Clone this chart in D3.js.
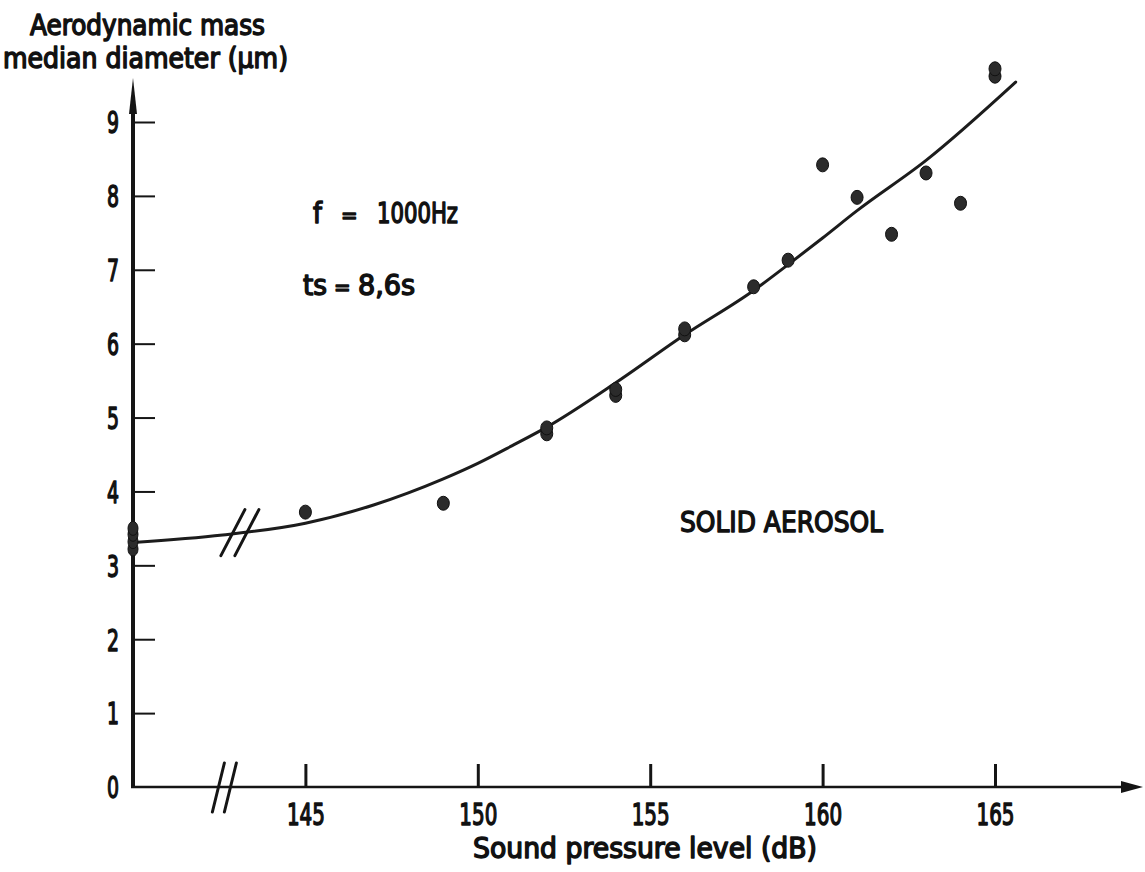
<!DOCTYPE html>
<html>
<head>
<meta charset="utf-8">
<script src="https://cdn.jsdelivr.net/npm/d3@7"></script>
<style>
  html, body { margin: 0; padding: 0; background: #fff; }
  svg { display: block; }
  text { font-family: "DejaVu Sans Condensed", "Liberation Sans Narrow", "Liberation Sans", sans-serif; font-weight: normal; fill: #111; stroke: #111; stroke-width: 1.4px; stroke-linejoin: round; }
</style>
</head>
<body>
<svg id="chart" width="1145" height="872"></svg>
<script>
// Sound pressure level (dB) and measured aerodynamic mass median diameter (µm)
const splValues  = [145, 149, 152, 152, 154, 154, 156, 156, 158, 159, 160, 161, 162, 163, 164, 165, 165];
const mmadValues = [3.72, 3.84, 4.78, 4.86, 5.30, 5.38, 6.12, 6.20, 6.77, 7.13, 8.42, 7.98, 7.48, 8.31, 7.90, 9.62, 9.72];

// Reference measurements without sound, plotted on the vertical axis
const noSoundValues = [3.22, 3.32, 3.42, 3.50];

// Hand-fitted trend curve
const fitSpl  = [140, 142.6, 145, 147, 149, 150, 151, 152, 154, 156, 158, 159, 160, 161, 163, 165.6];
const fitMmad = [3.31, 3.41, 3.57, 3.82, 4.17, 4.38, 4.62, 4.87, 5.47, 6.12, 6.72, 7.07, 7.43, 7.80, 8.48, 9.54];

const xTicks = [145, 150, 155, 160, 165];
const yTicks = [0, 1, 2, 3, 4, 5, 6, 7, 8, 9];

const axisOrigin = 140;      // dB value at the (broken) origin
const axisBreak = 142.65;    // break mark on the x axis
const curveBreak = 143.1;    // break mark on the curve

const svg = d3.select("#chart");
svg.append("rect").attr("width", 1145).attr("height", 872).attr("fill", "#fff");

const x = d3.scaleLinear().domain([axisOrigin, 165]).range([133, 995]);
const y = d3.scaleLinear().domain([0, 9]).range([787, 122]);

const ink = "#151515";

// ---- axes ----
const yAxis = d3.axisLeft(y).tickValues(yTicks.filter(d => d > 0)).tickSize(-22).tickPadding(14).tickFormat(d3.format("d"));
const gy = svg.append("g").attr("transform", `translate(${x(axisOrigin)},0)`).call(yAxis);
gy.select(".domain").remove();
gy.selectAll(".tick line").attr("stroke", ink).attr("stroke-width", 2);
gy.selectAll(".tick text").attr("font-size", 30).attr("fill", ink).attr("dy", "0.36em")
  .attr("textLength", 12).attr("lengthAdjust", "spacingAndGlyphs");

// zero label at the origin
svg.append("text").attr("x", x(axisOrigin) - 14).attr("y", y(0)).attr("dy", "0.36em")
  .attr("text-anchor", "end").attr("font-size", 30)
  .attr("textLength", 12).attr("lengthAdjust", "spacingAndGlyphs").text("0");

const xAxis = d3.axisBottom(x).tickValues(xTicks).tickSize(-23).tickPadding(17).tickFormat(d3.format("d"));
const gx = svg.append("g").attr("transform", `translate(0,${y(0)})`).call(xAxis);
gx.select(".domain").remove();
gx.selectAll(".tick line").attr("stroke", ink).attr("stroke-width", 3);
gx.selectAll(".tick text").attr("font-size", 30).attr("fill", ink)
  .attr("textLength", 38).attr("lengthAdjust", "spacingAndGlyphs");

// axis lines with arrow heads
const yTop = 78, xRight = 1143;
svg.append("line").attr("x1", x(axisOrigin)).attr("x2", x(axisOrigin))
  .attr("y1", y(0) + 1).attr("y2", yTop + 20).attr("stroke", ink).attr("stroke-width", 4);
svg.append("path")
  .attr("d", `M${x(axisOrigin)},${yTop} L${x(axisOrigin) + 4},${yTop + 36} L${x(axisOrigin) - 4},${yTop + 36} Z`)
  .attr("fill", ink);
svg.append("line").attr("x1", x(axisOrigin) - 2).attr("x2", xRight - 15)
  .attr("y1", y(0)).attr("y2", y(0)).attr("stroke", ink).attr("stroke-width", 2.5);
svg.append("path")
  .attr("d", `M${xRight},${y(0)} L${xRight - 22},${y(0) - 6} L${xRight - 22},${y(0) + 6} Z`)
  .attr("fill", ink);

// break marks on the x axis
const bx = x(axisBreak), by = y(0);
[-6, 6].forEach(off => {
  svg.append("line")
    .attr("x1", bx + off - 6).attr("y1", by + 25)
    .attr("x2", bx + off + 6).attr("y2", by - 24)
    .attr("stroke", ink).attr("stroke-width", 3).attr("stroke-linecap", "round");
});

// ---- fitted curve ----
const line = d3.line().x(d => x(d[0])).y(d => y(d[1])).curve(d3.curveMonotoneX);
svg.append("path")
  .datum(d3.zip(fitSpl, fitMmad))
  .attr("d", line)
  .attr("fill", "none").attr("stroke", "#1c1c1c").attr("stroke-width", 3).attr("stroke-linecap", "round");

// break marks on the curve
const cbx = x(curveBreak);
const cby = y(d3.interpolateNumber(fitMmad[1], fitMmad[2])((curveBreak - fitSpl[1]) / (fitSpl[2] - fitSpl[1])));
[-7, 7].forEach(off => {
  svg.append("line")
    .attr("x1", cbx + off - 12).attr("y1", cby + 23)
    .attr("x2", cbx + off + 12).attr("y2", cby - 23)
    .attr("stroke", ink).attr("stroke-width", 3).attr("stroke-linecap", "round");
});

// ---- data points ----
svg.append("g").selectAll("ellipse")
  .data(d3.zip(splValues, mmadValues))
  .join("ellipse")
  .attr("cx", d => x(d[0])).attr("cy", d => y(d[1]))
  .attr("rx", 6).attr("ry", 7)
  .attr("fill", "#2b2b2b").attr("stroke", "#111").attr("stroke-width", 1);

svg.append("g").selectAll("ellipse")
  .data(noSoundValues)
  .join("ellipse")
  .attr("cx", x(axisOrigin)).attr("cy", d => y(d))
  .attr("rx", 5).attr("ry", 7)
  .attr("fill", "#2b2b2b").attr("stroke", "#111").attr("stroke-width", 1);

// ---- labels ----
function label(txt, x0, baseline, size, len) {
  const t = svg.append("text").attr("x", x0).attr("y", baseline).attr("font-size", size).text(txt);
  if (len) t.attr("textLength", len).attr("lengthAdjust", "spacingAndGlyphs");
  return t;
}
label("Aerodynamic mass", 30, 35, 28, 235);
label("median diameter (µm)", 3, 68, 28, 285);
label("Sound pressure level (dB)", 473, 858, 28, 344);
label("SOLID AEROSOL", 680, 532, 29, 203);

label("f", 313, 223, 28);
label("=", 341, 223, 22);
label("1000Hz", 377, 223, 28, 81);
label("ts", 303, 295, 28, 24);
label("=", 334, 295, 22);
label("8,6s", 358, 295, 28, 57);
</script>
</body>
</html>
